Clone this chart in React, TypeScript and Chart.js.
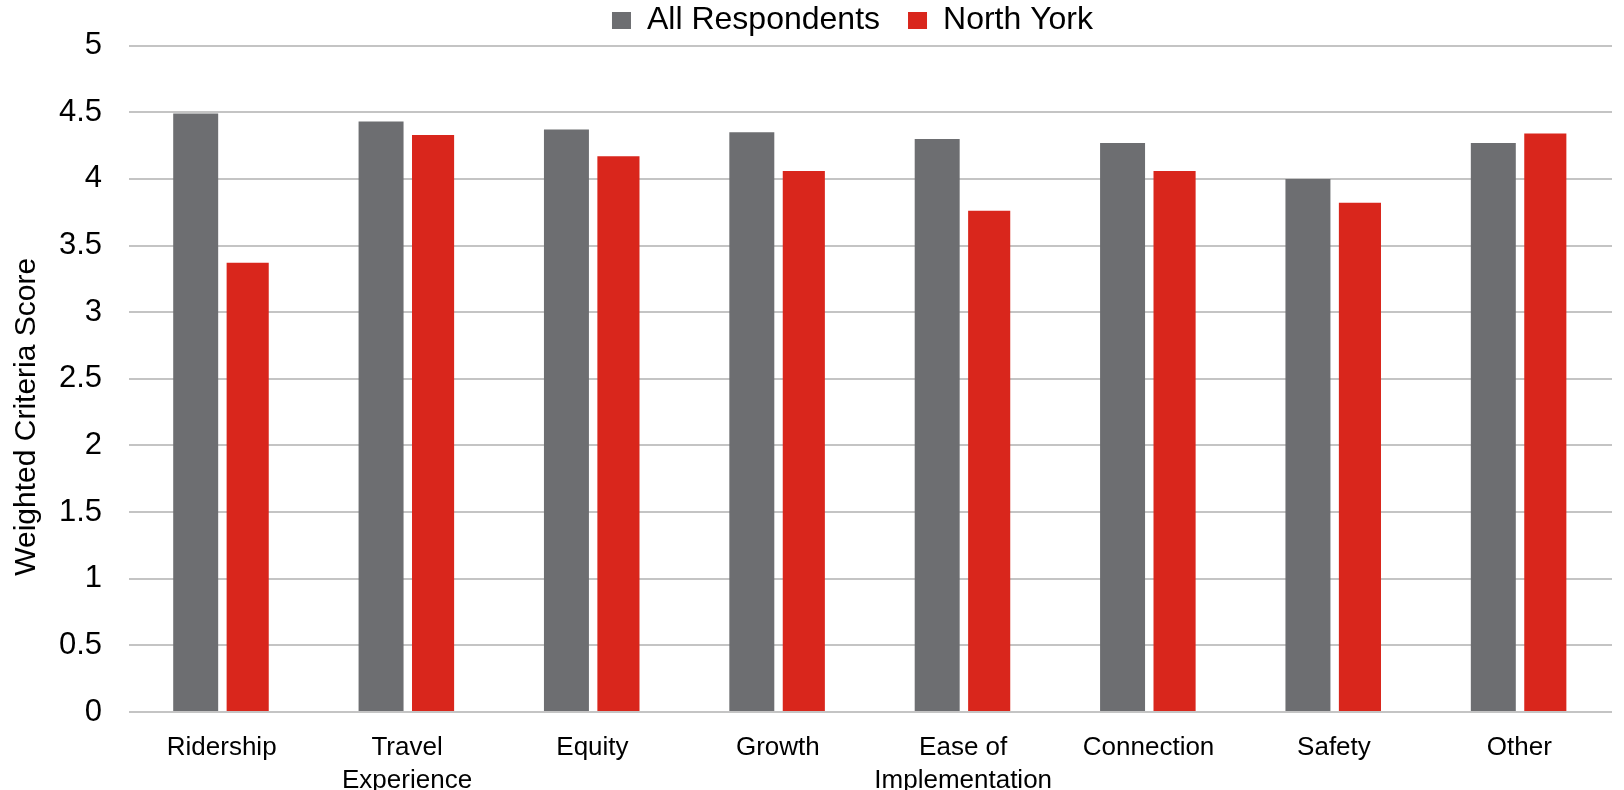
import React, { useEffect, useRef } from "react";
import { Chart, registerables } from "chart.js";

Chart.register(...registerables);

const categories: (string | string[])[] = [
  "Ridership",
  ["Travel", "Experience"],
  "Equity",
  "Growth",
  ["Ease of", "Implementation"],
  "Connection",
  "Safety",
  "Other",
];
const allRespondents = [4.49, 4.43, 4.37, 4.35, 4.30, 4.27, 4.0, 4.27];
const northYork = [3.37, 4.33, 4.17, 4.06, 3.76, 4.06, 3.82, 4.34];
const seriesNames = ["All Respondents", "North York"];
const yTicks = [0, 0.5, 1, 1.5, 2, 2.5, 3, 3.5, 4, 4.5, 5];
const yTitle = "Weighted Criteria Score";

const FONT = "'Liberation Sans', Arial, sans-serif";
const LEGEND_PAD = 28;

const layoutTweak = {
  id: "layoutTweak",
  afterLayout(chart: any) {
    const lg = chart.legend;
    if (lg) {
      lg.left -= 18;
      lg.right -= 18;
      lg.top = 4.5 - LEGEND_PAD;
    }
  },
  afterDraw(chart: any) {
    const ctx = chart.ctx;
    const y = chart.scales.y;
    ctx.save();
    ctx.translate(26.5, (y.top + y.bottom) / 2 + 38);
    ctx.rotate(-Math.PI / 2);
    ctx.font = `30px ${FONT}`;
    ctx.fillStyle = "#000";
    ctx.textAlign = "center";
    ctx.textBaseline = "middle";
    ctx.fillText(yTitle, 0, 0);
    ctx.restore();
  },
};

export default function App() {
  const ref = useRef<HTMLCanvasElement>(null);
  useEffect(() => {
    if (!ref.current) return;
    const chart = new Chart(ref.current, {
      type: "bar",
      data: {
        labels: categories,
        datasets: [
          {
            label: seriesNames[0],
            data: allRespondents,
            backgroundColor: "#6D6E71",
            categoryPercentage: 0.561,
            barPercentage: 0.865,
          },
          {
            label: seriesNames[1],
            data: northYork,
            backgroundColor: "#D9261C",
            categoryPercentage: 0.561,
            barPercentage: 0.81,
          },
        ],
      },
      plugins: [layoutTweak],
      options: {
        animation: false,
        responsive: true,
        maintainAspectRatio: false,
        layout: { padding: { left: 0, right: 12, top: 0, bottom: 0 } },
        plugins: {
          tooltip: { enabled: false },
          legend: {
            position: "top",
            fullSize: false,
            maxHeight: 42,
            labels: {
              font: { family: FONT, size: 32 },
              color: "#000",
              boxWidth: 19,
              boxHeight: 17,
              padding: LEGEND_PAD,
            },
          },
        },
        scales: {
          x: {
            grid: { display: false, drawTicks: false },
            border: { display: false },
            ticks: {
              font: { family: FONT, size: 26, lineHeight: 1.25 },
              color: "#000",
              padding: 20,
              maxRotation: 0,
              autoSkip: false,
            },
            afterFit: (s: any) => {
              s.height = 78;
            },
          },
          y: {
            min: 0,
            max: 5,
            afterBuildTicks: (s: any) => {
              s.ticks = yTicks.map((v) => ({ value: v }));
            },
            grid: { color: "#C4C4C4", lineWidth: 2, drawTicks: false },
            border: { display: false },
            ticks: {
              font: { family: FONT, size: 31 },
              color: "#000",
              padding: 27,
              callback: (v: any) => String(v),
            },
            afterFit: (s: any) => {
              s.width = 129;
            },
          },
        },
      },
    });
    return () => chart.destroy();
  }, []);
  return (
    <div style={{ position: "fixed", left: 0, top: 0, width: 1624, height: 790 }}>
      <canvas ref={ref} />
    </div>
  );
}
